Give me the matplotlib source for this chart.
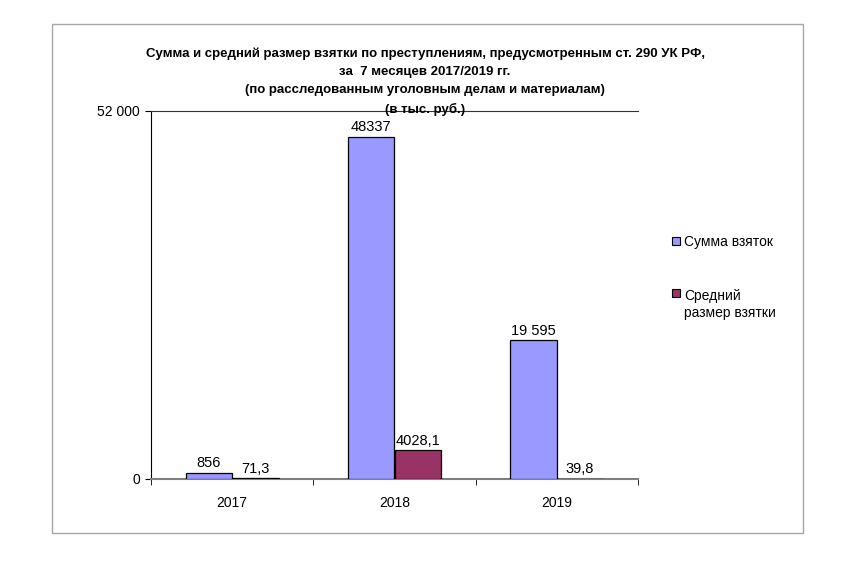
import matplotlib
matplotlib.use("Agg")
import matplotlib.pyplot as plt
import matplotlib.patches as mpatches
import numpy as np

plt.rcParams['font.family'] = ['Liberation Sans', 'DejaVu Sans']

years = ["2017", "2018", "2019"]
sum_bribes = [856, 48337, 19595]
avg_bribe = [71.3, 4028.1, 39.8]
sum_labels = ["856", "48337", "19 595"]
avg_labels = ["71,3", "4028,1", "39,8"]
series_names = ["Сумма взяток", "Средний\nразмер взятки"]
title = ("Сумма и средний размер взятки по преступлениям, предусмотренным ст. 290 УК РФ,\n"
         "за  7 месяцев 2017/2019 гг.\n"
         "(по расследованным уголовным делам и материалам)\n"
         "(в тыс. руб.)")
ymax = 52000

W, H = 861, 579
fig = plt.figure(figsize=(W / 100, H / 100), dpi=100)

# outer border
fig.patches.append(mpatches.Rectangle((52 / W, 1 - 533 / H), (803 - 52) / W, (533 - 24) / H,
                                      transform=fig.transFigure, fill=False,
                                      edgecolor="#A6A6A6", linewidth=1.0))

left, right, top, bottom = 151, 638, 111, 479
ax = fig.add_axes([left / W, 1 - bottom / H, (right - left) / W, (bottom - top) / H])

x = np.arange(len(years))
bw = 0.287
c1, c2 = "#9999FF", "#993366"
b1 = ax.bar(x - bw / 2, sum_bribes, bw, color=c1, edgecolor="black", linewidth=0.9,
            zorder=3)
b2 = ax.bar(x + bw / 2, avg_bribe, bw, color=c2, edgecolor="black", linewidth=0.9,
            zorder=3)

for i in range(len(years)):
    ax.text(x[i] - bw / 2, sum_bribes[i] + 350, sum_labels[i], ha="center", va="bottom",
            fontsize=10.5)
    ax.text(x[i] + bw / 2, avg_bribe[i] + 350, avg_labels[i], ha="center", va="bottom",
            fontsize=10.5)

ax.set_xlim(-0.5, len(years) - 0.5)
ax.set_ylim(0, ymax)
ax.set_yticks([0, ymax])
ax.set_yticklabels(["0", "52 000"], fontsize=10)
ax.set_xticks(x)
ax.set_xticklabels(years, fontsize=10)
ax.tick_params(axis="x", which="major", length=0, pad=12)
ax.set_xticks(np.arange(-0.5, len(years)), minor=True)
ax.tick_params(axis="x", which="minor", length=4, color="black", direction="out")
ax.tick_params(axis="y", length=4, color="black", direction="out", pad=4)

ax.spines["right"].set_visible(False)
ax.spines["left"].set_color("black")
ax.spines["top"].set_color("#333333")
ax.spines["bottom"].set_color("#808080")
ax.spines["bottom"].set_linewidth(1.5)

fig.text(425 / W, 1 - 47 / H, title, ha="center", va="top", fontsize=9.5,
         fontweight="bold", linespacing=1.68)

# legend (drawn manually to match the original placement)
sq = 8
for (ytop, col) in [(237, c1), (289, c2)]:
    fig.patches.append(mpatches.Rectangle((672 / W, 1 - (ytop + sq) / H), sq / W, sq / H,
                                          transform=fig.transFigure, facecolor=col,
                                          edgecolor="black", linewidth=0.8))
fig.text(684 / W, 1 - 242 / H, series_names[0], ha="left", va="center", fontsize=10)
fig.text(684 / W, 1 - 289 / H, series_names[1], ha="left", va="top", fontsize=10,
         linespacing=1.3)

fig.savefig("out.png", dpi=100, facecolor="white")
